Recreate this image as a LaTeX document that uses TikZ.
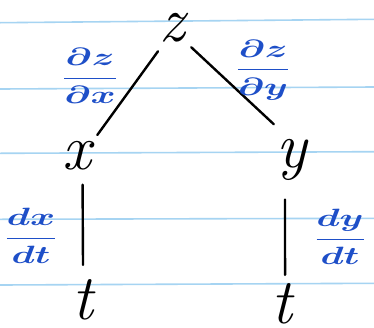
\documentclass[tikz,border=0pt]{standalone}
\usepackage{amsmath}
\usepackage{graphicx}
\usepackage{bm}
\usepackage{fontspec}
\definecolor{inkblue}{HTML}{1E4FC8}
\definecolor{paperline}{HTML}{A6D4F2}
\newcommand{\bluefrac}[2]{\scalebox{3.8}[2.5]{$\displaystyle\bm{\frac{#1}{#2}}$}}
\begin{document}
\begin{tikzpicture}[x=1pt,y=-1pt,
  var/.style={circle,inner sep=0pt,font=\fontsize{64}{64}\selectfont\itshape},
  frac/.style={inner sep=0pt,text=inkblue},
  edge/.style={line width=2.4pt,line cap=round},
  rule/.style={paperline,line width=1.6pt}]
\useasboundingbox (0,0) rectangle (374,327);
\fill[white] (0,0) rectangle (374,327);
% paper lines
\draw[rule] (0,22.7) -- (374,19.3);
\draw[rule] (0,89) -- (374,87);
\draw[rule] (0,153.3) -- (374,151.7);
\draw[rule] (0,219.3) -- (374,218.3);
\draw[rule] (0,285) -- (374,283.3);
% variables
\node[var,minimum size=54pt] (z) at (172,28) {z};
\node[var,minimum size=58pt] (x) at (77,156) {x};
\node[var,minimum size=80pt] (y) at (292,160) {y};
\node[var,minimum size=70pt] (t1) at (83,300) {t};
\node[var,minimum size=58pt] (t2) at (282,304) {t};
% connectors
\draw[edge] (z.239) -- (x.46);
\draw[edge] (z.-45) -- (y.117);
\draw[edge] (x.-79) -- (t1.90);
\draw[edge] (y.-100) -- (t2.84);
% labels
\node[frac] (lzx) at (90,76) {\bluefrac{\partial z}{\partial x}};
\node[frac] (lzy) at (263,70) {\bluefrac{\partial z}{\partial y}};
\node[frac] (lxt) at (31,236) {\bluefrac{dx}{dt}};
\node[frac] (lyt) at (340,237) {\bluefrac{dy}{dt}};
\end{tikzpicture}
\end{document}
